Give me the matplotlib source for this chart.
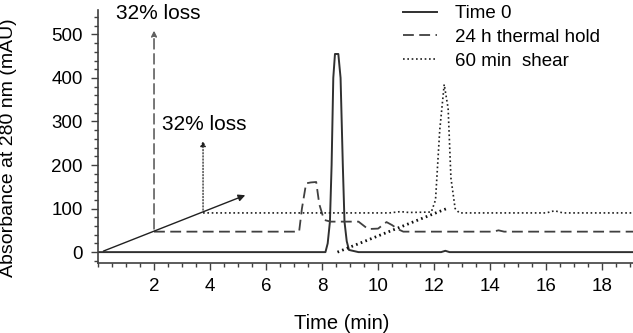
import matplotlib
matplotlib.use('Agg')
import matplotlib.pyplot as plt
from matplotlib.ticker import MultipleLocator

plt.rcParams['font.family'] = ['Liberation Sans', 'DejaVu Sans']

# chromatogram traces (time in min, absorbance in mAU)
t0_x = [0, 8.12, 8.2, 8.28, 8.34, 8.4, 8.46, 8.58, 8.66, 8.74, 8.8, 8.88, 8.96, 9.3, 12.25, 12.4, 12.55, 19.1]
t0_y = [0, 0, 20, 70, 200, 400, 455, 455, 400, 200, 70, 25, 5, 0, 0, 3, 0, 0]

hold_x = [2, 7.18, 7.28, 7.43, 7.6, 7.79, 7.9, 8.07, 8.3, 8.8, 9.3, 9.64, 10.0, 10.3, 10.5, 10.7, 10.9, 14.1, 14.3, 14.5, 19.1]
hold_y = [47, 47, 100, 158, 160, 161, 110, 74, 70, 70, 70, 53, 54, 69, 62, 53, 47, 47, 50, 47, 47]

shear_x = [3.75, 10.4, 10.8, 11.1, 11.9, 12.05, 12.2, 12.36, 12.5, 12.6, 12.75, 12.9, 16.0, 16.3, 16.6, 19.1]
shear_y = [90, 90, 93, 91, 92, 120, 280, 385, 330, 170, 100, 90, 90, 95, 90, 90]

labels = ['Time 0', '24 h thermal hold', '60 min  shear']

# annotation geometry
trend_x = [0.1, 5.35]
trend_y = [0, 133]
drop_x = [8.55, 12.45]
drop_y = [0, 100]
loss_text = '32% loss'

fig = plt.figure(figsize=(6.33, 3.33), dpi=100)
ax = fig.add_axes([98 / 633, 70 / 333, 535 / 633, 253 / 333])

ax.plot(t0_x, t0_y, color='#303030', lw=1.4, label=labels[0])
ax.plot(hold_x, hold_y, color='#404040', lw=1.3, ls=(0, (6, 3)), label=labels[1])
ax.plot(shear_x, shear_y, color='#202020', lw=1.2, ls=(0, (1, 1.6)), label=labels[2])

# trend arrow and loss arrows
ax.annotate('', xy=(trend_x[1], trend_y[1]), xytext=(trend_x[0], trend_y[0]),
            arrowprops=dict(arrowstyle='-|>', color='#202020', lw=1.0, mutation_scale=10))
ax.annotate('', xy=(2, 515), xytext=(2, hold_y[0]),
            arrowprops=dict(arrowstyle='-|>', color='#606060', lw=1.2, ls=(0, (6, 3)), mutation_scale=8))
ax.annotate('', xy=(3.75, 262), xytext=(3.75, shear_y[0]),
            arrowprops=dict(arrowstyle='-|>', color='#202020', lw=0.9, ls=(0, (1, 1.5)), mutation_scale=8))
ax.plot(drop_x, drop_y, color='#101010', lw=2.0, ls=(0, (0.6, 1.2)))

ax.text(0.64, 547, loss_text, fontsize=15, va='center', ha='left')
ax.text(2.3, 292, loss_text, fontsize=15, va='center', ha='left')

ax.set_xlim(0, 19.1)
ax.set_ylim(-25, 556)
ax.xaxis.set_minor_locator(MultipleLocator(0.5))
ax.yaxis.set_minor_locator(MultipleLocator(20))
ax.set_xticks([2, 4, 6, 8, 10, 12, 14, 16, 18])
ax.set_yticks([0, 100, 200, 300, 400, 500])
ax.tick_params(axis='both', which='major', labelsize=13.5, length=5, width=1, color='#404040', pad=6)
ax.tick_params(axis='both', which='minor', length=3, width=1, color='#404040')

for s in ['top', 'right']:
    ax.spines[s].set_visible(False)
for s in ['left', 'bottom']:
    ax.spines[s].set_color('#404040')
    ax.spines[s].set_linewidth(1.2)

ax.set_xlabel('Time (min)', fontsize=14.5)
ax.xaxis.set_label_coords(0.455, -0.2)
ax.set_ylabel('Absorbance at 280 nm (mAU)', fontsize=14)
ax.yaxis.set_label_coords(-0.152, 0.455)

leg = ax.legend(loc='upper left', bbox_to_anchor=(0.57, 1.019), frameon=False, fontsize=13.5,
                borderpad=0, borderaxespad=0, handlelength=1.8, handletextpad=0.96,
                labelspacing=0.35)

plt.savefig('out.png', dpi=100)
